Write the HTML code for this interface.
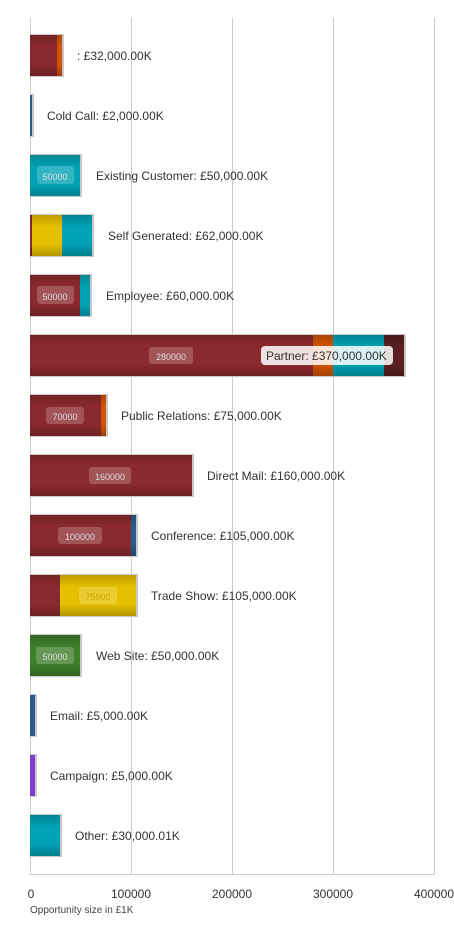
<!DOCTYPE html>
<html><head><meta charset="utf-8"><style>
html,body{margin:0;padding:0;background:#fff;}
svg{display:block;font-family:"Liberation Sans",Arial,sans-serif;}
.l{font-size:12px;fill:#333;transform:translateY(1px);}
.v{font-size:9px;fill:#ddd;text-anchor:middle;transform:translateY(1px);}
.ax{font-size:12px;fill:#333;text-anchor:middle;}
</style></head><body>
<svg width="454" height="940" viewBox="0 0 454 940">
<defs>
<linearGradient id="sh" x1="0" y1="0" x2="0" y2="1">
<stop offset="0" stop-color="#000" stop-opacity="0.18"/>
<stop offset="0.3" stop-color="#000" stop-opacity="0"/>
<stop offset="0.7" stop-color="#000" stop-opacity="0"/>
<stop offset="1" stop-color="#000" stop-opacity="0.22"/>
</linearGradient>
</defs>
<g stroke="#ccc" stroke-width="1">
<line x1="30.5" y1="18" x2="30.5" y2="874"/>
<line x1="131.5" y1="18" x2="131.5" y2="874"/>
<line x1="232.5" y1="18" x2="232.5" y2="874"/>
<line x1="333.5" y1="18" x2="333.5" y2="874"/>
<line x1="434.5" y1="18" x2="434.5" y2="874"/>
<line x1="30" y1="874.5" x2="435" y2="874.5"/>
</g>

<rect x="30" y="34" width="34" height="43" fill="#c8c8c8"/>
<rect x="30" y="35" width="27" height="41" fill="#8b2a2e"/>
<rect x="57" y="35" width="5" height="41" fill="#d35400"/>
<rect x="30" y="35" width="32" height="41" fill="url(#sh)"/>
<text class="l" x="77" y="59">: £32,000.00K</text>

<rect x="30" y="94" width="4" height="43" fill="#c8c8c8"/>
<rect x="30" y="95" width="2" height="41" fill="#2a5b8c"/>
<text class="l" x="47" y="119">Cold Call: £2,000.00K</text>

<rect x="30" y="154" width="52" height="43" fill="#c8c8c8"/>
<rect x="30" y="155" width="50" height="41" fill="#00a3b5"/>
<rect x="30" y="155" width="50" height="41" fill="url(#sh)"/>
<rect x="37" y="166" width="37" height="18" rx="3" fill="#fff" fill-opacity="0.2"/>
<text class="v" x="55" y="179">50000</text>
<text class="l" x="96" y="179">Existing Customer: £50,000.00K</text>

<rect x="30" y="214" width="64" height="43" fill="#c8c8c8"/>
<rect x="30" y="215" width="2" height="41" fill="#8b2a2e"/>
<rect x="32" y="215" width="30" height="41" fill="#e6c000"/>
<rect x="62" y="215" width="30" height="41" fill="#00a3b5"/>
<rect x="30" y="215" width="62" height="41" fill="url(#sh)"/>
<text class="l" x="108" y="239">Self Generated: £62,000.00K</text>

<rect x="30" y="274" width="62" height="43" fill="#c8c8c8"/>
<rect x="30" y="275" width="50" height="41" fill="#8b2a2e"/>
<rect x="80" y="275" width="10" height="41" fill="#00a3b5"/>
<rect x="30" y="275" width="60" height="41" fill="url(#sh)"/>
<rect x="37" y="286" width="37" height="18" rx="3" fill="#fff" fill-opacity="0.2"/>
<text class="v" x="55" y="299">50000</text>
<text class="l" x="106" y="299">Employee: £60,000.00K</text>

<rect x="30" y="334" width="376" height="43" fill="#c8c8c8"/>
<rect x="30" y="335" width="283" height="41" fill="#8b2a2e"/>
<rect x="313" y="335" width="20" height="41" fill="#d35400"/>
<rect x="333" y="335" width="51" height="41" fill="#00a3b5"/>
<rect x="384" y="335" width="20" height="41" fill="#5a1f20"/>
<rect x="30" y="335" width="374" height="41" fill="url(#sh)"/>
<rect x="149" y="347" width="44" height="17" rx="3" fill="#fff" fill-opacity="0.2"/>
<text class="v" x="171" y="359">280000</text>
<rect x="261" y="346" width="132" height="19" rx="4" fill="#fff" fill-opacity="0.85"/>
<text class="l" x="266" y="359">Partner: £370,000.00K</text>

<rect x="30" y="394" width="78" height="43" fill="#c8c8c8"/>
<rect x="30" y="395" width="71" height="41" fill="#8b2a2e"/>
<rect x="101" y="395" width="5" height="41" fill="#d35400"/>
<rect x="30" y="395" width="76" height="41" fill="url(#sh)"/>
<rect x="46" y="407" width="38" height="17" rx="3" fill="#fff" fill-opacity="0.2"/>
<text class="v" x="65" y="419">70000</text>
<text class="l" x="121" y="419">Public Relations: £75,000.00K</text>

<rect x="30" y="454" width="164" height="43" fill="#c8c8c8"/>
<rect x="30" y="455" width="162" height="41" fill="#8b2a2e"/>
<rect x="30" y="455" width="162" height="41" fill="url(#sh)"/>
<rect x="89" y="467" width="42" height="17" rx="3" fill="#fff" fill-opacity="0.2"/>
<text class="v" x="110" y="479">160000</text>
<text class="l" x="207" y="479">Direct Mail: £160,000.00K</text>

<rect x="30" y="514" width="108" height="43" fill="#c8c8c8"/>
<rect x="30" y="515" width="101" height="41" fill="#8b2a2e"/>
<rect x="131" y="515" width="5" height="41" fill="#2a5b8c"/>
<rect x="30" y="515" width="106" height="41" fill="url(#sh)"/>
<rect x="58" y="527" width="44" height="17" rx="3" fill="#fff" fill-opacity="0.2"/>
<text class="v" x="80" y="539">100000</text>
<text class="l" x="151" y="539">Conference: £105,000.00K</text>

<rect x="30" y="574" width="108" height="43" fill="#c8c8c8"/>
<rect x="30" y="575" width="30" height="41" fill="#8b2a2e"/>
<rect x="60" y="575" width="76" height="41" fill="#e6c000"/>
<rect x="30" y="575" width="106" height="41" fill="url(#sh)"/>
<rect x="79" y="587" width="38" height="17" rx="3" fill="#fff" fill-opacity="0.2"/>
<text class="v" x="98" y="599" style="fill:#c9a800">75000</text>
<text class="l" x="151" y="599">Trade Show: £105,000.00K</text>

<rect x="30" y="634" width="52" height="43" fill="#c8c8c8"/>
<rect x="30" y="635" width="50" height="41" fill="#3f7f2a"/>
<rect x="30" y="635" width="50" height="41" fill="url(#sh)"/>
<rect x="36" y="647" width="38" height="17" rx="3" fill="#fff" fill-opacity="0.2"/>
<text class="v" x="55" y="659">50000</text>
<text class="l" x="96" y="659">Web Site: £50,000.00K</text>

<rect x="30" y="694" width="7" height="43" fill="#c8c8c8"/>
<rect x="30" y="695" width="5" height="41" fill="#2a5b8c"/>
<text class="l" x="50" y="719">Email: £5,000.00K</text>

<rect x="30" y="754" width="7" height="43" fill="#c8c8c8"/>
<rect x="30" y="755" width="5" height="41" fill="#7b3fd0"/>
<text class="l" x="50" y="779">Campaign: £5,000.00K</text>

<rect x="30" y="814" width="32" height="43" fill="#c8c8c8"/>
<rect x="30" y="815" width="30" height="41" fill="#00a3b5"/>
<rect x="30" y="815" width="30" height="41" fill="url(#sh)"/>
<text class="l" x="75" y="839">Other: £30,000.01K</text>

<text class="ax" x="31" y="898">0</text>
<text class="ax" x="131" y="898">100000</text>
<text class="ax" x="232" y="898">200000</text>
<text class="ax" x="333" y="898">300000</text>
<text class="ax" x="434" y="898">400000</text>
<text x="30" y="913" font-size="10" fill="#444">Opportunity size in £1K</text>
</svg>
</body></html>
